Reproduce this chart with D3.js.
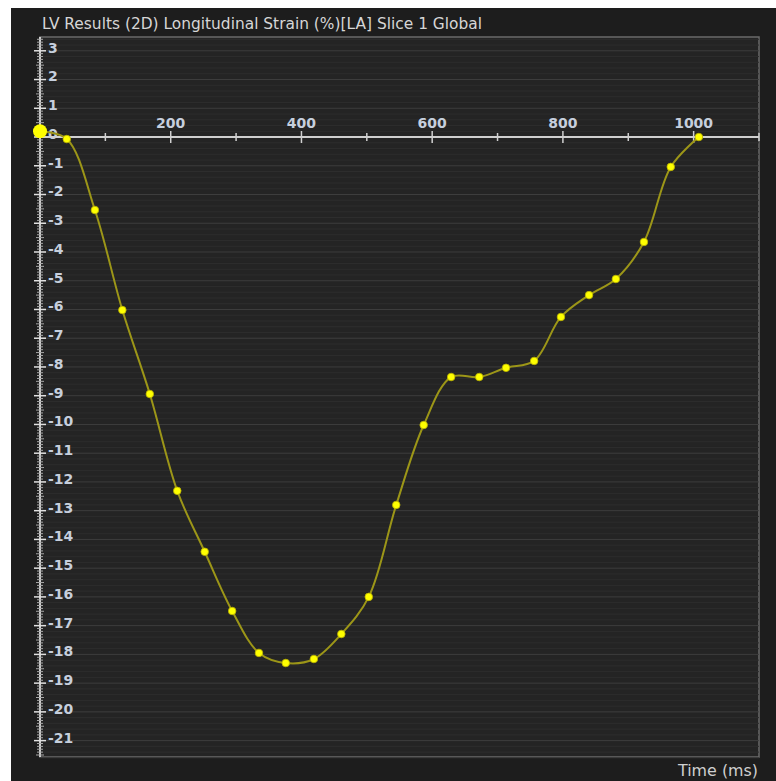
<!DOCTYPE html>
<html lang="en">
<head>
<meta charset="UTF-8">
<script src="https://d3js.org/d3.v7.min.js"></script>
<title>LV Longitudinal Strain</title>
<style>
  html, body { margin: 0; padding: 0; background: #ffffff; }
  svg { display: block; }
  .title { font-family: "DejaVu Sans", sans-serif; font-size: 15px; fill: #d6d6d6; }
  .tick-label { font-family: "DejaVu Sans", sans-serif; font-size: 14px; font-weight: bold; fill: #c6cfdd; }
  .axis-title { font-family: "DejaVu Sans", sans-serif; font-size: 15px; fill: #cfcfcf; }
</style>
</head>
<body>
<div id="chart"></div>
<script>
// Data
const times = [41, 84, 126, 168, 210, 252, 294, 335, 376, 419, 461, 503, 545, 587, 629, 672, 713, 756, 797, 840, 881, 924, 965, 1008];
const strain = [-0.07, -2.54, -6.02, -8.94, -12.31, -14.43, -16.49, -17.95, -18.30, -18.16, -17.29, -16.0, -12.80, -10.02, -8.35, -8.35, -8.03, -7.79, -6.26, -5.50, -4.94, -3.65, -1.04, 0.0];
const startPoint = { t: 0, v: 0.2 };
const xTicks = [200, 400, 600, 800, 1000];
const xMinorTicks = [100, 300, 500, 700, 900, 1100];
const yTicks = [3, 2, 1, 0, -1, -2, -3, -4, -5, -6, -7, -8, -9, -10, -11, -12, -13, -14, -15, -16, -17, -18, -19, -20, -21];

const width = 776;
const height = 781;

const svg = d3.select("#chart")
    .append("svg")
    .attr("width", width)
    .attr("height", height);

// dark panel
svg.append("rect")
    .attr("x", 11).attr("y", 8)
    .attr("width", width - 11).attr("height", height - 8)
    .attr("fill", "#1d1d1d");

// scales
const x = d3.scaleLinear().domain([0, 1100]).range([40, 759]);
const y = d3.scaleLinear().domain([3.48, -21.57]).range([37, 757]);

// plot background
svg.append("rect")
    .attr("x", x(0)).attr("y", y(3.48))
    .attr("width", x(1100) - x(0)).attr("height", y(-21.57) - y(3.48))
    .attr("fill", "#242424")
    .attr("stroke", "#6a6a6a")
    .attr("stroke-width", 1.5);

// faint stripes
const minorGrid = d3.range(-108, 18).map(d => d / 5).filter(d => d % 1 !== 0);
svg.append("g").selectAll("line")
    .data(minorGrid)
    .join("line")
    .attr("x1", x(0)).attr("x2", x(1100))
    .attr("y1", d => y(d)).attr("y2", d => y(d))
    .attr("stroke", "#2d2d2d")
    .attr("stroke-width", 1);

// integer grid lines
svg.append("g").selectAll("line")
    .data(yTicks.filter(d => d !== 0))
    .join("line")
    .attr("x1", x(0)).attr("x2", x(1100))
    .attr("y1", d => y(d)).attr("y2", d => y(d))
    .attr("stroke", "#3d3d3d")
    .attr("stroke-width", 1);

// y axis: line + dense ladder of ticks
const isWhole = d => Math.abs(d % 1) < 1e-6;
const isHalf = d => Math.abs(Math.abs(d % 1) - 0.5) < 1e-6;
const yAxis = svg.append("g").attr("stroke", "#d0d0d0");
yAxis.append("line")
    .attr("x1", x(0)).attr("x2", x(0))
    .attr("y1", y(3.48)).attr("y2", y(-21.57))
    .attr("stroke-width", 2);
const yMinor = d3.range(-215, 35).map(d => d / 10);
yAxis.selectAll(".minor")
    .data(yMinor)
    .join("line")
    .attr("class", "minor")
    .attr("x1", d => x(0) - (isWhole(d) ? 6 : isHalf(d) ? 4 : 3))
    .attr("x2", d => x(0) + (isWhole(d) ? 6 : isHalf(d) ? 4 : 3))
    .attr("y1", d => y(d)).attr("y2", d => y(d))
    .attr("stroke-width", d => isWhole(d) ? 1.5 : 1)
    .attr("stroke", d => isWhole(d) ? "#e0e0e0" : "#a8a8a8");

svg.append("g").selectAll("text")
    .data(yTicks)
    .join("text")
    .attr("class", "tick-label")
    .attr("x", x(0) + 8)
    .attr("y", d => y(d) - 3)
    .attr("dy", "0.35em")
    .text(d => d);

// x axis at zero
const xAxis = svg.append("g").attr("stroke", "#d0d0d0");
xAxis.append("line")
    .attr("x1", x(0)).attr("x2", x(1100))
    .attr("y1", y(0)).attr("y2", y(0))
    .attr("stroke-width", 2);
xAxis.selectAll(".major")
    .data(xTicks)
    .join("line")
    .attr("x1", d => x(d)).attr("x2", d => x(d))
    .attr("y1", y(0) - 6).attr("y2", y(0) + 6)
    .attr("stroke-width", 1.5);
xAxis.selectAll(".minor")
    .data(xMinorTicks)
    .join("line")
    .attr("x1", d => x(d)).attr("x2", d => x(d))
    .attr("y1", y(0) - 4).attr("y2", y(0) + 4)
    .attr("stroke-width", 1.5);

svg.append("g").selectAll("text")
    .data(xTicks)
    .join("text")
    .attr("class", "tick-label")
    .attr("x", d => x(d))
    .attr("y", y(0) - 14)
    .attr("dy", "0.35em")
    .attr("text-anchor", "middle")
    .text(d => d);

// strain curve
const points = [startPoint].concat(times.map((t, i) => ({ t: t, v: strain[i] })));
const line = d3.line()
    .x(d => x(d.t))
    .y(d => y(d.v))
    .curve(d3.curveCatmullRom.alpha(0.5));

svg.append("path")
    .datum(points)
    .attr("d", line)
    .attr("fill", "none")
    .attr("stroke", "#9c9618")
    .attr("stroke-width", 2);

svg.append("g").selectAll("circle")
    .data(points.slice(1))
    .join("circle")
    .attr("cx", d => x(d.t))
    .attr("cy", d => y(d.v))
    .attr("r", 3.8)
    .attr("fill", "#ffff00")
    .attr("stroke", "#b8b000")
    .attr("stroke-width", 0.8);

svg.append("circle")
    .attr("cx", x(startPoint.t))
    .attr("cy", y(startPoint.v))
    .attr("r", 7)
    .attr("fill", "#ffff00");

// title and axis label
svg.append("text")
    .attr("class", "title")
    .attr("x", 42)
    .attr("y", 29)
    .attr("textLength", 440)
    .attr("lengthAdjust", "spacingAndGlyphs")
    .text("LV Results (2D) Longitudinal Strain (%)[LA] Slice 1 Global");

svg.append("text")
    .attr("class", "axis-title")
    .attr("x", 758)
    .attr("y", 776)
    .attr("text-anchor", "end")
    .attr("textLength", 80)
    .attr("lengthAdjust", "spacingAndGlyphs")
    .text("Time (ms)");
</script>
</body>
</html>
